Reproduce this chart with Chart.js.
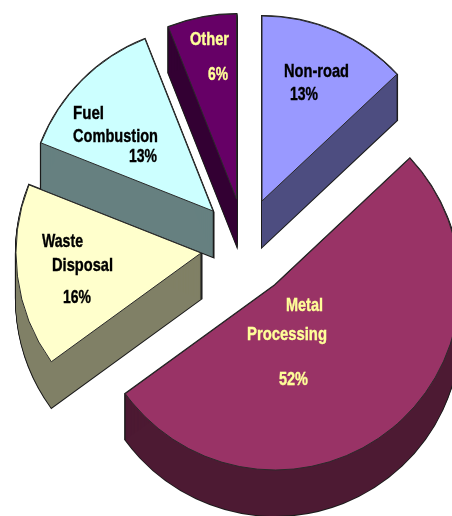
<!DOCTYPE html>
<html>
<head>
<meta charset="utf-8">
<style>
html,body{margin:0;padding:0;background:#fff;overflow:hidden}
#wrap{position:relative;width:452px;height:516px}
</style>
<script src="https://cdn.jsdelivr.net/npm/chart.js@4"></script>
</head>
<body>
<div id="wrap"><canvas id="c" width="452" height="516"></canvas></div>
<script>
const categories = ['Non-road', 'Metal Processing', 'Waste Disposal', 'Fuel Combustion', 'Other'];
const shares = [13, 52, 16, 13, 6];

const topColors  = ['#9999FF', '#993366', '#FFFFCC', '#CCFFFF', '#660066'];
const wallColors = ['#4D4D80', '#4D1A33', '#808066', '#668080', '#330033'];
const textColors = ['#000000', '#FFFF99', '#000000', '#000000', '#FFFF99'];
// how far each slice is pulled out of the pie centre, as [dx, dy]
const explode = [[24,-57],[37,27],[-37,-5],[-25,-47],[-1.5,-59]];
const DEPTH = 46;
// text layout per slice: [line, left x, baseline y, width]
const labelLayout = [
  [['Non-road',284,77,65],['13%',290,100,28]],
  [['Metal',286,311,37],['Processing',247,340,80],['52%',279,385,29]],
  [['Waste',42,247,41],['Disposal',52,271,61],['16%',63,303,28]],
  [['Fuel',73,119,31],['Combustion',73,142,85],['13%',129,162,28]],
  [['Other',190,45,39],['6%',208,80,20]]
];

const pie3d = {
  id: 'pie3d',
  afterDatasetsUpdate(chart) {
    chart.getDatasetMeta(0).data.forEach((arc, i) => {
      arc.x += explode[i][0];
      arc.y += explode[i][1];
    });
  },
  beforeDatasetsDraw(chart) {
    const ctx = chart.ctx;
    chart.getDatasetMeta(0).data.forEach((arc, i) => {
      const wedge = d => {
        ctx.beginPath();
        ctx.moveTo(arc.x, arc.y + d);
        ctx.arc(arc.x, arc.y + d, arc.outerRadius, arc.startAngle, arc.endAngle);
        ctx.closePath();
      };
      ctx.save();
      ctx.strokeStyle = '#1c1c1c';
      ctx.lineWidth = 2;
      for (let d = 0; d <= DEPTH; d++) { wedge(d); ctx.stroke(); }
      ctx.fillStyle = wallColors[i];
      for (let d = 0; d <= DEPTH; d++) { wedge(d); ctx.fill(); }
      ctx.restore();
    });
  },
  afterDraw(chart) {
    const ctx = chart.ctx;
    ctx.save();
    ctx.textAlign = 'left';
    ctx.textBaseline = 'alphabetic';
    ctx.lineWidth = 0.4;
    ctx.font = 'bold 19px "Liberation Sans Narrow", "Liberation Sans", sans-serif';
    labelLayout.forEach((lines, i) => {
      ctx.fillStyle = textColors[i];
      ctx.strokeStyle = textColors[i];
      lines.forEach(([t, x, y, w]) => {
        ctx.fillText(t, x, y, w);
        ctx.strokeText(t, x, y, w);
      });
    });
    ctx.restore();
  }
};

new Chart(document.getElementById('c'), {
  type: 'pie',
  data: {
    labels: categories,
    datasets: [{
      data: shares,
      backgroundColor: topColors,
      borderColor: '#2a2a2a',
      borderWidth: 1,
      clip: false
    }]
  },
  options: {
    responsive: false,
    animation: false,
    radius: 185,
    layout: { padding: { left: 24 } },
    plugins: { legend: { display: false }, tooltip: { enabled: false }, title: { display: false } }
  },
  plugins: [pie3d]
});
</script>
</body>
</html>
